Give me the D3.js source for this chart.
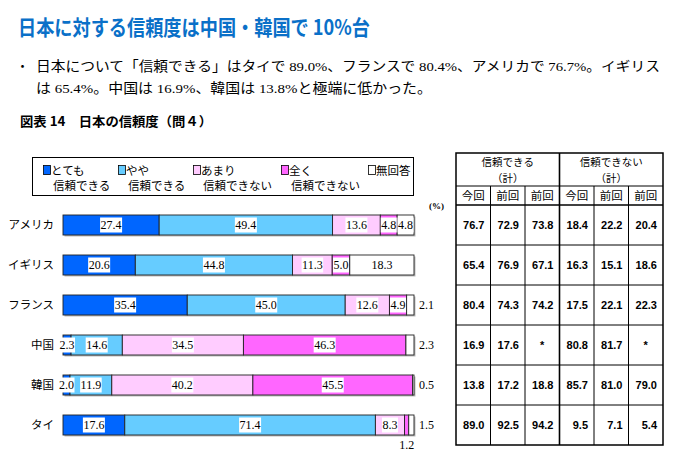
<!DOCTYPE html>
<html>
<head>
<meta charset="utf-8">
<script src="https://cdn.jsdelivr.net/npm/d3@7"></script>
<style>
  body { margin: 0; background: #fff; }
  svg { display: block; }
</style>
</head>
<body>
<svg id="chart" width="681" height="465"></svg>
<script>
// data
const countries = ["アメリカ", "イギリス", "フランス", "中国", "韓国", "タイ"]
const categories = ["とても信頼できる", "やや信頼できる", "あまり信頼できない", "全く信頼できない", "無回答"]
const legendLines = [["とても", "信頼できる"], ["やや", "信頼できる"], ["あまり", "信頼できない"], ["全く", "信頼できない"], ["無回答", ""]]
const veryTrust = [27.4, 20.6, 35.4, 2.3, 2.0, 17.6]
const someTrust = [49.4, 44.8, 45.0, 14.6, 11.9, 71.4]
const notMuch = [13.6, 11.3, 12.6, 34.5, 40.2, 8.3]
const notAtAll = [4.8, 5.0, 4.9, 46.3, 45.5, 1.2]
const noAnswer = [4.8, 18.3, 2.1, 2.3, 0.5, 1.5]

// side table: trust (total) / distrust (total), this time and the two previous surveys
const tableHeads = ["今回", "前回", "前回", "今回", "前回", "前回"]
const trustNow = [76.7, 65.4, 80.4, 16.9, 13.8, 89.0]
const trustPrev1 = [72.9, 76.9, 74.3, 17.6, 17.2, 92.5]
const trustPrev2 = [73.8, 67.1, 74.2, null, 18.8, 94.2]
const distrustNow = [18.4, 16.3, 17.5, 80.8, 85.7, 9.5]
const distrustPrev1 = [22.2, 15.1, 22.1, 81.7, 81.0, 7.1]
const distrustPrev2 = [20.4, 18.6, 22.3, null, 79.0, 5.4]

const colors = ["#0066ff", "#66ccff", "#ffccff", "#ff66ff", "#ffffff"]
const serif = "'Liberation Serif', 'Noto Sans CJK JP', serif"
const sans = "'Noto Sans CJK JP', sans-serif"
const arial = "'Liberation Sans', Arial, sans-serif"

const svg = d3.select("#chart")

// headings
svg.append("text")
    .attr("x", 18).attr("y", 35)
    .attr("textLength", 352).attr("lengthAdjust", "spacingAndGlyphs")
    .style("font", `bold 21px ${sans}`)
    .style("fill", "#0a70c8")
    .text("日本に対する信頼度は中国・韓国で 10%台")

svg.append("text").attr("x", 16).attr("y", 71)
    .style("font", `13px ${serif}`).text("・")
svg.append("text")
    .attr("x", 36).attr("y", 71)
    .attr("textLength", 624).attr("lengthAdjust", "spacingAndGlyphs")
    .style("font", `13.5px ${serif}`)
    .text("日本について「信頼できる」はタイで 89.0%、フランスで 80.4%、アメリカで 76.7%。イギリス")
svg.append("text")
    .attr("x", 36).attr("y", 93)
    .attr("textLength", 396).attr("lengthAdjust", "spacingAndGlyphs")
    .style("font", `13.5px ${serif}`)
    .text("は 65.4%。中国は 16.9%、韓国は 13.8%と極端に低かった。")
svg.append("text")
    .attr("x", 20).attr("y", 126)
    .attr("textLength", 192).attr("lengthAdjust", "spacingAndGlyphs")
    .style("font", `bold 13px ${sans}`)
    .text("図表 14　日本の信頼度（問４）")

// legend
const legend = svg.append("g")
legend.append("rect")
    .attr("x", 32.5).attr("y", 157.5).attr("width", 381).attr("height", 38)
    .attr("fill", "none").attr("stroke", "#000").attr("stroke-width", 1)
const legendX = [43, 118, 193, 281, 368]
const item = legend.selectAll("g.item")
    .data(categories)
    .join("g")
    .attr("class", "item")
    .attr("transform", (d, i) => `translate(${legendX[i]},0)`)
item.append("rect")
    .attr("x", 0.5).attr("y", 165.5).attr("width", 7).attr("height", 9)
    .attr("fill", (d, i) => colors[i])
    .attr("stroke", "#000").attr("stroke-width", 0.8)
item.append("text")
    .attr("x", 8).attr("y", 175)
    .style("font", `11.5px ${sans}`)
    .text((d, i) => legendLines[i][0])
item.append("text")
    .attr("x", 10).attr("y", 190)
    .style("font", `11.5px ${sans}`)
    .text((d, i) => legendLines[i][1])

svg.append("text")
    .attr("x", 429).attr("y", 209)
    .style("font", `bold 9px ${serif}`)
    .text("(%)")

// bars
const rows = countries.map((c, i) => ({
    country: c,
    [categories[0]]: veryTrust[i],
    [categories[1]]: someTrust[i],
    [categories[2]]: notMuch[i],
    [categories[3]]: notAtAll[i],
    [categories[4]]: noAnswer[i]
}))
const series = d3.stack().keys(categories)(rows)

const x = d3.scaleLinear().domain([0, 100]).range([63, 414])
const y = d3.scaleBand().domain(countries).range([205, 445]).paddingInner(0.5).paddingOuter(0.25)

// light shadow behind each bar
svg.append("g")
    .selectAll("rect")
    .data(countries)
    .join("rect")
    .attr("x", x(0) + 1.5)
    .attr("y", d => y(d) + 1.5)
    .attr("width", x(100) - x(0))
    .attr("height", y.bandwidth())
    .attr("fill", "#bbb")

const seg = svg.append("g")
    .selectAll("g")
    .data(series)
    .join("g")
    .attr("fill", (d, i) => colors[i])

seg.selectAll("rect")
    .data(d => d)
    .join("rect")
    .attr("x", d => x(d[0]))
    .attr("y", d => y(d.data.country))
    .attr("width", d => x(Math.min(100, d[1])) - x(d[0]))
    .attr("height", y.bandwidth())
    .attr("stroke", "#222")
    .attr("stroke-width", 0.9)

// category labels
svg.append("g")
    .selectAll("text")
    .data(countries)
    .join("text")
    .attr("x", 54)
    .attr("y", d => y(d) + y.bandwidth() / 2)
    .attr("dy", "0.36em")
    .attr("text-anchor", "end")
    .style("font", `11.5px ${sans}`)
    .text(d => d)

// value labels
const labels = []
series.forEach((s, k) => {
    s.forEach(d => {
        const v = d[1] - d[0]
        const val = +(v.toFixed(1))
        let place = "in"
        if (k === 4 && val < 3) place = "right"
        if (k === 3 && val < 2) place = "below"
        labels.push({ country: d.data.country, k, val, x0: d[0], x1: Math.min(100, d[1]), place })
    })
})

const inLabels = labels.filter(d => d.place === "in")
const lab = svg.append("g")
    .selectAll("g")
    .data(inLabels)
    .join("g")
    .attr("transform", d => `translate(${(x(d.x0) + x(d.x1)) / 2},${y(d.country) + y.bandwidth() / 2})`)
lab.append("text")
    .attr("text-anchor", "middle")
    .attr("dy", "0.35em")
    .style("font", `12px ${serif}`)
    .text(d => d.val.toFixed(1))
lab.each(function () {
    const t = d3.select(this).select("text")
    const b = t.node().getBBox()
    d3.select(this).insert("rect", "text")
        .attr("x", b.x - 0.5)
        .attr("y", -7.5)
        .attr("width", b.width + 1)
        .attr("height", 15)
        .attr("fill", "#fff")
})

svg.append("g")
    .selectAll("text")
    .data(labels.filter(d => d.place === "right"))
    .join("text")
    .attr("x", x(100) + 5)
    .attr("y", d => y(d.country) + y.bandwidth() / 2)
    .attr("dy", "0.36em")
    .style("font", `12px ${serif}`)
    .text(d => d.val.toFixed(1))

svg.append("g")
    .selectAll("text")
    .data(labels.filter(d => d.place === "below"))
    .join("text")
    .attr("x", d => (x(d.x0) + x(d.x1)) / 2)
    .attr("y", d => y(d.country) + y.bandwidth() + 14)
    .attr("text-anchor", "middle")
    .style("font", `12px ${serif}`)
    .text(d => d.val.toFixed(1))

// side table
const tableCols = [trustNow, trustPrev1, trustPrev2, distrustNow, distrustPrev1, distrustPrev2]
const cx = d3.scaleBand().domain(d3.range(6)).range([456, 663])
const ry = d3.scaleBand().domain(countries).range([205, 445])
const table = svg.append("g")
const tTop = 153, head1 = 186, tBottom = 445

// header lines
table.append("line")
    .attr("x1", cx.range()[0]).attr("x2", cx.range()[1])
    .attr("y1", head1).attr("y2", head1)
    .attr("stroke", "#000").attr("stroke-width", 1)
table.append("g")
    .selectAll("line")
    .data(countries)
    .join("line")
    .attr("x1", cx.range()[0]).attr("x2", cx.range()[1])
    .attr("y1", d => ry(d)).attr("y2", d => ry(d))
    .attr("stroke", "#000").attr("stroke-width", d => d === countries[0] ? 1.3 : 1)
table.append("g")
    .selectAll("line")
    .data(d3.range(1, 6))
    .join("line")
    .attr("x1", d => cx(d)).attr("x2", d => cx(d))
    .attr("y1", d => d === 3 ? tTop : head1).attr("y2", tBottom)
    .attr("stroke", "#000").attr("stroke-width", d => d === 3 ? 1.6 : 1)
table.append("rect")
    .attr("x", cx.range()[0]).attr("y", tTop)
    .attr("width", cx.range()[1] - cx.range()[0]).attr("height", tBottom - tTop)
    .attr("fill", "none").attr("stroke", "#000").attr("stroke-width", 1.5)

const groupHeads = ["信頼できる", "信頼できない"]
groupHeads.forEach((h, g) => {
    const mid = (cx(g * 3) + cx(g * 3 + 2) + cx.bandwidth()) / 2
    table.append("text")
        .attr("x", mid).attr("y", 166)
        .attr("text-anchor", "middle")
        .style("font", `10.5px ${sans}`)
        .text(h)
    table.append("text")
        .attr("x", mid).attr("y", 182)
        .attr("text-anchor", "middle")
        .style("font", `10.5px ${sans}`)
        .text("（計）")
})
table.append("g")
    .selectAll("text")
    .data(tableHeads)
    .join("text")
    .attr("x", (d, i) => cx(i) + cx.bandwidth() / 2)
    .attr("y", 200)
    .attr("text-anchor", "middle")
    .style("font", `11.5px ${sans}`)
    .text(d => d)

tableCols.forEach((col, j) => {
    table.append("g")
        .selectAll("text")
        .data(col)
        .join("text")
        .attr("x", d => d === null ? cx(j) + cx.bandwidth() / 2 : cx(j) + cx.bandwidth() - 6)
        .attr("y", (d, i) => ry(countries[i]) + ry.bandwidth() / 2)
        .attr("dy", "0.36em")
        .attr("text-anchor", d => d === null ? "middle" : "end")
        .style("font", `bold 11px ${arial}`)
        .text(d => d === null ? "*" : d.toFixed(1))
})
</script>
</body>
</html>
